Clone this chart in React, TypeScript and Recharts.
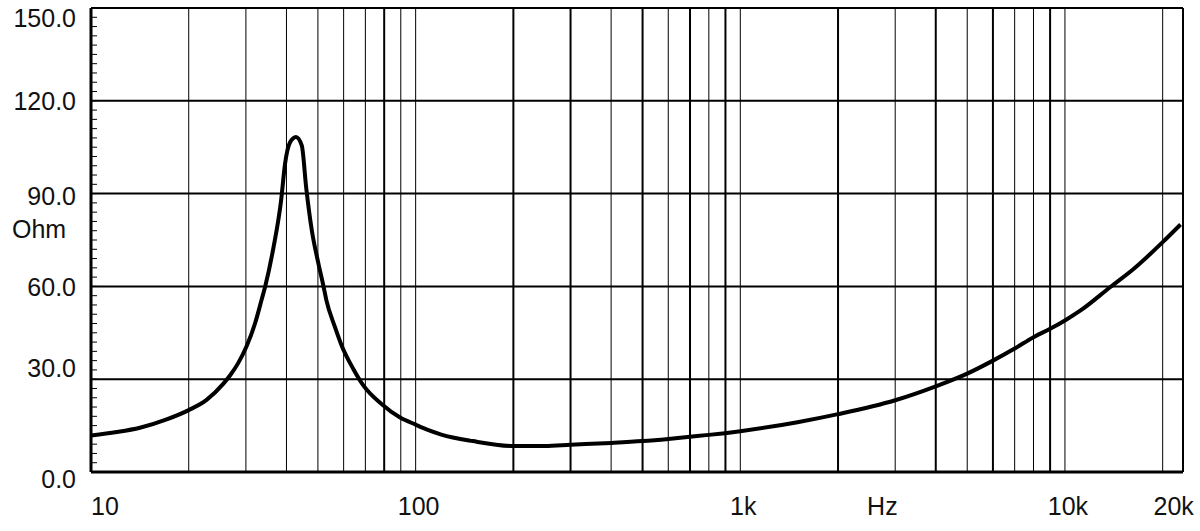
import React from 'react';
import { LineChart, Line, XAxis, YAxis, ReferenceLine, Label } from 'recharts';

// impedance curve (Hz -> Ohm)
const FREQ_HZ = [
  10, 12, 14.15, 17.1, 20, 22.7, 25.5, 26.8, 28.4, 30.1, 32, 33.5, 34.4, 36.5, 38.5, 39.6, 41, 42.8, 44.6,
  46, 47.9, 50.2, 52, 53.1, 56.4, 59.1, 64.2, 68.9, 78.5, 89.3, 100, 109, 120, 150, 200, 250, 300,
  400, 500, 600, 700, 800, 1000, 1500, 2000, 3000, 4000, 5000, 6000, 7000, 8000, 9000,
  10000, 11200, 13800, 16300, 20000, 22700,
];
const IMPEDANCE_OHM = [
  11.8, 12.9, 14.3, 17.0, 20.0, 23.3, 28.4, 31.2, 35.2, 40.5, 48.0, 55.5, 60.0, 72.7, 87.7, 99.6, 106.5, 108.3, 105.5,
  92.0, 78.0, 67.3, 60.1, 55.5, 46.9, 41.0, 33.4, 28.1, 22.0, 17.7, 15.3, 13.6, 12.1, 10.0, 8.4, 8.4, 8.8,
  9.4, 10.0, 10.7, 11.4, 12.0, 13.2, 16.1, 18.7, 23.2, 27.7, 31.8, 36.0, 39.9, 43.6, 46.3,
  49.0, 52.3, 59.8, 65.7, 74.3, 80.0,
];

const X_TICKS = [10, 100, 1000, 10000, 20000];
const X_TICK_LABELS = ['10', '100', '1k', '10k', '20k'];
const X_DOMAIN = [10, 23100];

const Y_DOMAIN = [0, 150];
const Y_MINOR_TICKS = Array.from({ length: 51 }, (_, i) => i * 3);
const Y_GRID = [30, 60, 90, 120];

const V_GRID_HZ = [
  20, 30, 40, 50, 60, 70, 80, 90, 100,
  200, 300, 400, 500, 600, 700, 800, 900, 1000,
  2000, 3000, 4000, 5000, 6000, 7000, 8000, 9000, 10000, 20000,
];
// the scanned grid has some heavier lines
const HEAVY_V = [80, 200, 300, 500, 700, 900, 2000, 4000, 6000, 9000];

const FONT = '"Liberation Sans", Arial, sans-serif';
const INK = '#000';

const data = FREQ_HZ.map((f, i) => ({ f, z: IMPEDANCE_OHM[i] }));

// nudges so the y labels sit where the scan has them
const Y_LABEL_SHIFT: Record<number, number> = { 0: 7, 30: -11, 60: 1, 90: 2, 120: 0, 150: 10 };

const YTick = (props: any) => {
  const { x, y, payload } = props;
  const v = payload.value;
  return (
    <g>
      <line x1={x} x2={x + 6} y1={y} y2={y} stroke={INK} strokeWidth={1} />
      {v % 30 === 0 && (
        <text
          x={x - 15}
          y={y + (Y_LABEL_SHIFT[v] ?? 0)}
          dy="0.36em"
          textAnchor="end"
          fontSize={25}
          fontFamily={FONT}
          fill="#111"
        >
          {v.toFixed(1)}
        </text>
      )}
    </g>
  );
};

const XTick = (props: any) => {
  const { x, y, payload } = props;
  const i = X_TICKS.indexOf(payload.value);
  const last = i === X_TICKS.length - 1;
  return (
    <text
      x={x + (i === 0 ? 0 : last ? 11 : 3)}
      y={y + 43}
      textAnchor={i === 0 ? 'start' : 'middle'}
      fontSize={25}
      fontFamily={FONT}
      fill="#111"
    >
      {X_TICK_LABELS[i]}
    </text>
  );
};

export default function App() {
  return (
    <div style={{ position: 'absolute', left: 0, top: 0, width: 1200, height: 531, background: '#fff' }}>
      <LineChart width={1200} height={531} data={data} margin={{ top: 8, right: 17, bottom: 0, left: 0 }}>
        {V_GRID_HZ.map((f) => (
          <ReferenceLine
            key={'v' + f}
            x={f}
            stroke={INK}
            strokeWidth={HEAVY_V.includes(f) ? 2 : 1}
          />
        ))}
        {Y_GRID.map((v) => (
          <ReferenceLine key={'h' + v} y={v} stroke={INK} strokeWidth={2} />
        ))}
        <ReferenceLine y={150} stroke={INK} strokeWidth={2} />
        <ReferenceLine x={X_DOMAIN[1]} stroke={INK} strokeWidth={2} />
        <XAxis
          dataKey="f"
          type="number"
          scale="log"
          domain={X_DOMAIN}
          allowDataOverflow
          ticks={X_TICKS}
          interval={0}
          height={59}
          tickSize={0}
          tickMargin={0}
          tickLine={false}
          axisLine={{ stroke: INK, strokeWidth: 3 }}
          tick={<XTick />}
        >
          <Label
            content={(p: any) => {
              const vb = p.viewBox || {};
              return (
                <text
                  x={vb.x + vb.width * 0.7247}
                  y={vb.y + 43}
                  textAnchor="middle"
                  fontSize={25}
                  fontFamily={FONT}
                  fill="#111"
                >
                  Hz
                </text>
              );
            }}
          />
        </XAxis>
        <YAxis
          type="number"
          domain={Y_DOMAIN}
          allowDataOverflow
          ticks={Y_MINOR_TICKS}
          interval={0}
          width={91}
          tickSize={0}
          tickMargin={0}
          tickLine={false}
          axisLine={{ stroke: INK, strokeWidth: 3 }}
          tick={<YTick />}
        >
          <Label
            content={(p: any) => {
              const vb = p.viewBox || {};
              return (
                <text
                  x={vb.x + 12}
                  y={vb.y + vb.height * 0.476}
                  dy="0.36em"
                  fontSize={25}
                  fontFamily={FONT}
                  fill="#111"
                >
                  Ohm
                </text>
              );
            }}
          />
        </YAxis>
        <Line
          type="monotone"
          dataKey="z"
          stroke={INK}
          strokeWidth={4}
          dot={false}
          activeDot={false}
          isAnimationActive={false}
        />
      </LineChart>
    </div>
  );
}
